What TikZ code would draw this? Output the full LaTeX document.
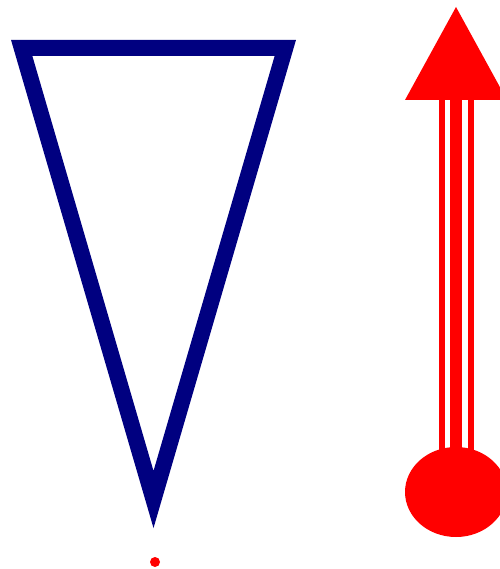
\documentclass[tikz,border=0pt]{standalone}
\definecolor{navyblue}{RGB}{0,0,128}
\tikzset{
  tri/.style={draw=navyblue, line width=16pt, line join=miter},
  redfill/.style={fill=red, draw=none}
}
\begin{document}
\begin{tikzpicture}[x=1pt,y=-1pt]
\useasboundingbox (0,0) rectangle (499,569);
% triangle
\coordinate (tl) at (21.7,48);
\coordinate (tr) at (285.3,48);
\coordinate (bt) at (153.5,499.5);
\draw[tri] (tl) -- (tr) -- (bt) -- cycle;
% dot
\fill[red] (155,562) circle (5);
% arrow
\coordinate (apex) at (456,7);
\coordinate (hl) at (405,100);
\coordinate (hr) at (507,100);
\coordinate (s1) at (456,99);
\coordinate (s2) at (456,492);
\draw[red, line width=35pt] (s1) -- (s2);
\draw[white, line width=23pt] (s1) -- (s2);
\draw[red, line width=12pt] (s1) -- (s2);
\fill[redfill] (apex) -- (hl) -- (hr) -- cycle;
\fill[redfill] (s2) ellipse [x radius=51, y radius=45];
\end{tikzpicture}
\end{document}
